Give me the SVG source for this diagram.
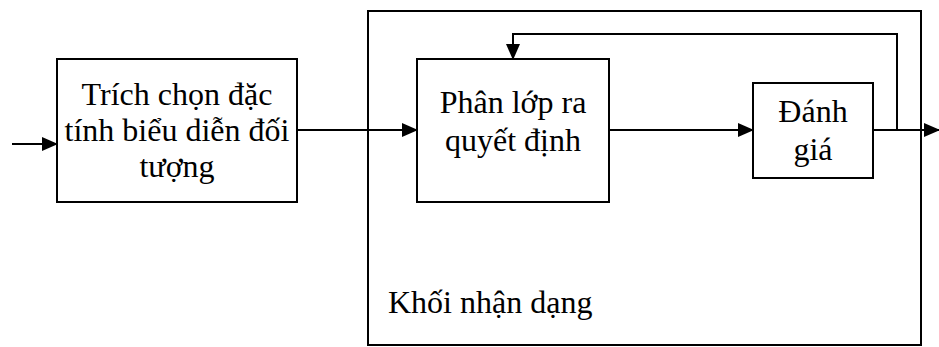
<svg xmlns="http://www.w3.org/2000/svg" width="939" height="347" viewBox="0 0 939 347">
<style>
.box{fill:#fff;stroke:#000;stroke-width:2}
.ln{fill:none;stroke:#000;stroke-width:2}
.t{font-family:'Liberation Serif','Times New Roman','DejaVu Serif',serif;font-size:32px;fill:#000}
</style>
<defs>
<marker id="ah" markerUnits="userSpaceOnUse" markerWidth="16" markerHeight="14" refX="15" refY="7" orient="auto">
<path d="M0,0 L16,7 L0,14 Z" fill="#000"/>
</marker>
</defs>
<rect width="939" height="347" fill="#fff"/>
<g id="khoi-nhan-dang">
<rect class="box" x="368" y="11" width="553" height="334"/>
<text class="t" x="388" y="313">Khối nhận dạng</text>
</g>
<g id="trich-chon">
<rect class="box" x="57" y="59" width="240" height="143"/>
<text class="t" x="177" y="105" text-anchor="middle">Trích chọn đặc</text>
<text class="t" x="177" y="141" text-anchor="middle">tính biểu diễn đối</text>
<text class="t" x="177" y="177" text-anchor="middle">tượng</text>
</g>
<g id="phan-lop">
<rect class="box" x="417" y="59" width="192" height="143"/>
<text class="t" x="513" y="113" text-anchor="middle">Phân lớp ra</text>
<text class="t" x="513" y="151" text-anchor="middle">quyết định</text>
</g>
<g id="danh-gia">
<rect class="box" x="753" y="83" width="120" height="95"/>
<text class="t" x="813" y="122" text-anchor="middle">Đánh</text>
<text class="t" x="813" y="160" text-anchor="middle">giá</text>
</g>
<g id="connectors">
<line class="ln" x1="12" y1="144" x2="57" y2="144" marker-end="url(#ah)"/>
<line class="ln" x1="297" y1="130" x2="417" y2="130" marker-end="url(#ah)"/>
<line class="ln" x1="609" y1="130" x2="753" y2="130" marker-end="url(#ah)"/>
<line class="ln" x1="873" y1="130" x2="939" y2="130" marker-end="url(#ah)"/>
<polyline class="ln" points="897,130 897,34 513,34 513,59" marker-end="url(#ah)"/>
</g>
</svg>
